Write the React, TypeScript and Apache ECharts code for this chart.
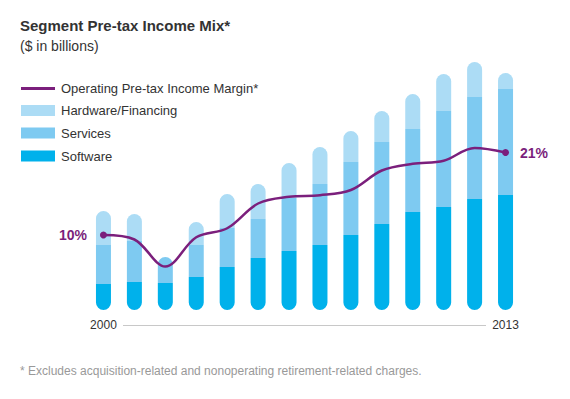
import React, { useEffect, useRef } from "react";
import * as echarts from "echarts";

const years = ["2000", "2001", "2002", "2003", "2004", "2005", "2006", "2007", "2008", "2009", "2010", "2011", "2012", "2013"];
const software = [2.6, 2.8, 2.7, 3.3, 4.3, 5.2, 5.9, 6.5, 7.5, 8.6, 9.8, 10.3, 11.1, 11.5];
const services = [3.9, 4.1, 2.6, 3.2, 3.9, 3.9, 5.3, 6.1, 7.3, 8.2, 8.3, 9.6, 10.2, 10.6];
const hardware = [3.4, 2.7, 0, 2.3, 3.4, 3.5, 3.5, 3.7, 3.1, 3.1, 3.5, 3.7, 3.5, 1.6];
const margin = [10, 9.4, 5.8, 9.7, 10.9, 14.2, 15.1, 15.3, 16.0, 18.6, 19.5, 19.9, 21.6, 21.0];

const legendNames = ["Operating Pre-tax Income Margin*", "Hardware/Financing", "Services", "Software"];

const C_SW = "#00b1eb";
const C_SERV = "#7ecaf1";
const C_HW = "#acdcf5";
const C_LINE = "#7b1f7c";
const FONT = "'Liberation Sans', Arial, Helvetica, sans-serif";

export default function App() {
  const ref = useRef<HTMLDivElement>(null);
  useEffect(() => {
    if (!ref.current) return;
    const chart = echarts.init(ref.current, undefined, { renderer: "svg" });
    const r = 7.5;
    const last = years.length - 1;
    const option: any = {
      animation: false,
      backgroundColor: "#ffffff",
      textStyle: { fontFamily: FONT },
      grid: { left: 88, width: 433, top: 40, bottom: 89 },
      xAxis: {
        type: "category",
        data: years,
        axisLine: { show: false },
        axisTick: { show: false },
        axisLabel: {
          interval: 0,
          margin: 9,
          fontSize: 12,
          color: "#333333",
          fontFamily: FONT,
          formatter: (v: string, i: number) => (i === 0 || i === last ? v : ""),
        },
      },
      yAxis: [
        { type: "value", min: 0, max: 27, show: false },
        { type: "value", min: 0, max: 36, show: false },
      ],
      series: [
        {
          name: legendNames[3],
          type: "bar",
          stack: "mix",
          barWidth: 15,
          data: software,
          itemStyle: { color: C_SW, borderRadius: [0, 0, r, r] },
        },
        {
          name: legendNames[2],
          type: "bar",
          stack: "mix",
          barWidth: 15,
          data: services.map((v, i) =>
            hardware[i] === 0 ? { value: v, itemStyle: { borderRadius: [r, r, 0, 0] } } : v
          ),
          itemStyle: { color: C_SERV },
        },
        {
          name: legendNames[1],
          type: "bar",
          stack: "mix",
          barWidth: 15,
          data: hardware,
          itemStyle: { color: C_HW, borderRadius: [r, r, 0, 0] },
        },
        {
          name: legendNames[0],
          type: "line",
          yAxisIndex: 1,
          smooth: 0.35,
          z: 5,
          symbol: "none",
          showSymbol: true,
          lineStyle: { color: C_LINE, width: 2.5 },
          itemStyle: { color: C_LINE },
          data: margin.map((v, i) => {
            if (i === 0 || i === last) {
              return {
                value: v,
                symbol: "circle",
                symbolSize: 7,
                label: {
                  show: true,
                  position: i === 0 ? "left" : "right",
                  distance: i === 0 ? 13 : 11,
                  formatter: Math.round(v) + "%",
                  color: C_LINE,
                  fontWeight: "bold",
                  fontSize: 14,
                  fontFamily: FONT,
                },
              };
            }
            return v;
          }),
        },
      ],
      graphic: [
        {
          type: "text",
          left: 20,
          top: 18,
          style: { text: "Segment Pre-tax Income Mix*", font: `bold 15px ${FONT}`, fill: "#333333" },
        },
        {
          type: "text",
          left: 20,
          top: 39,
          style: { text: "($ in billions)", font: `14px ${FONT}`, fill: "#333333" },
        },
        {
          type: "rect",
          shape: { x: 21, y: 87, width: 34, height: 3 },
          style: { fill: C_LINE },
        },
        {
          type: "rect",
          shape: { x: 21, y: 105, width: 34, height: 11 },
          style: { fill: C_HW },
        },
        {
          type: "rect",
          shape: { x: 21, y: 127.5, width: 34, height: 11 },
          style: { fill: C_SERV },
        },
        {
          type: "rect",
          shape: { x: 21, y: 150.5, width: 34, height: 11 },
          style: { fill: C_SW },
        },
        ...legendNames.map((n, i) => ({
          type: "text",
          x: 61,
          y: [88.5, 110.5, 133, 156][i],
          style: { text: n, font: `13px ${FONT}`, fill: "#333333", textVerticalAlign: "middle" },
        })),
        {
          type: "line",
          shape: { x1: 123, y1: 325.5, x2: 486, y2: 325.5 },
          style: { stroke: "#c8c8c8", lineWidth: 1 },
        },
        {
          type: "text",
          x: 20,
          y: 371,
          style: {
            text: "* Excludes acquisition-related and nonoperating retirement-related charges.",
            font: `12px ${FONT}`,
            fill: "#999999",
            textVerticalAlign: "middle",
          },
        },
      ],
    };
    chart.setOption(option);
    return () => chart.dispose();
  }, []);
  return <div ref={ref} style={{ position: "fixed", left: 0, top: 0, width: 570, height: 399 }} />;
}
